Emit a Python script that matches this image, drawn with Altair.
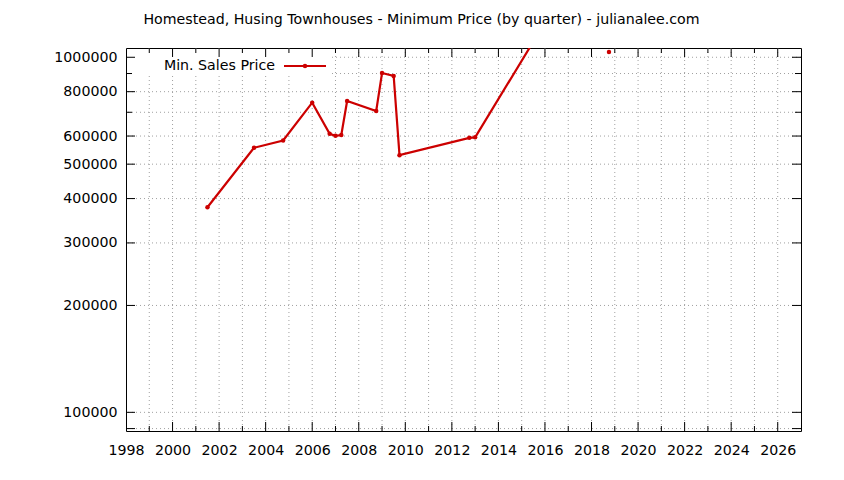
import altair as alt
import pandas as pd

title_text = "Homestead, Husing Townhouses - Minimum Price (by quarter) - julianalee.com"
series_name = "Min. Sales Price"

years = [2001.5, 2003.5, 2004.75, 2006.0, 2006.75, 2007.0, 2007.25, 2007.5,
         2008.75, 2009.0, 2009.5, 2009.75, 2012.75, 2013.0, 2015.5, 2018.75]
prices = [378000, 556000, 583000, 745000, 609000, 601000, 604000, 753000,
          706000, 903000, 886000, 530000, 593000, 595000, 1107000, 1035000]
segments = [1, 1, 1, 1, 1, 1, 1, 1, 1, 1, 1, 1, 1, 1, 1, 2]

x_domain = [1998, 2027]
y_domain = [88600, 1062000]
x_label_values = list(range(1998, 2027, 2))
x_grid_values = list(range(1999, 2027))
x_major_ticks = list(range(2000, 2027, 2))
x_minor_ticks = list(range(1999, 2027, 2))
y_label_values = [100000, 200000, 300000, 400000, 500000, 600000, 800000, 1000000]
y_grid_values = [90000, 100000, 200000, 300000, 400000, 500000, 600000, 700000,
                 800000, 900000, 1000000]
y_major_ticks = [90000, 100000, 200000, 300000, 400000, 500000, 600000, 800000, 1000000]
y_minor_ticks = [700000, 900000]

W, H = 675, 383
RED = "#cc0000"
GRID = "#a0a0a0"
FONT = "DejaVu Sans"
FS = 14.2

df = pd.DataFrame({"year": years, "price": prices, "seg": segments})
xs = alt.Scale(domain=x_domain, nice=False, zero=False)
ys = alt.Scale(type="log", domain=y_domain, nice=False)

AX = alt.Axis(values=x_label_values, format="d", title=None, grid=False, ticks=False,
              domain=False, labelPadding=12, labelFont=FONT, labelFontSize=FS,
              labelColor="black", labelOverlap=False, labelFlush=False)
AY = alt.Axis(values=y_label_values, format="d", title=None, grid=False, ticks=False,
              domain=False, labelPadding=9, labelFont=FONT, labelFontSize=FS,
              labelColor="black", labelOverlap=False, labelFlush=False)


def X(field="year:Q"):
    return alt.X(field, scale=xs, axis=AX)


def Y(field="price:Q"):
    return alt.Y(field, scale=ys, axis=AY)


def xdf(vals):
    return pd.DataFrame({"year": vals})


def ydf(vals):
    return pd.DataFrame({"price": vals})


# grid
vgrid = alt.Chart(xdf(x_grid_values)).mark_rule(color=GRID, strokeDash=[1, 3], strokeWidth=1).encode(x=X())
hgrid = alt.Chart(ydf(y_grid_values)).mark_rule(color=GRID, strokeDash=[1, 3], strokeWidth=1).encode(y=Y())

# legend background box
legend_df = pd.DataFrame({"label": [series_name]})
legend_bg = alt.Chart(legend_df).mark_rect(color="white").encode(
    x=alt.value(1), x2=alt.value(206), y=alt.value(1), y2=alt.value(28))

line = alt.Chart(df).mark_line(color=RED, strokeWidth=2.2, clip=True).encode(
    x=X(), y=Y(), detail="seg:N")
pts = alt.Chart(df).mark_point(color=RED, filled=True, shape="circle", size=20, opacity=1, clip=True).encode(
    x=X(), y=Y())

# inward tick marks
tick_layers = []
for vals, ln in ((x_major_ticks, 9), (x_minor_ticks, 5)):
    tick_layers.append(alt.Chart(xdf(vals)).mark_rule(color="black").encode(
        x=X(), y=alt.value(H), y2=alt.value(H - ln)))
    tick_layers.append(alt.Chart(xdf(vals)).mark_rule(color="black").encode(
        x=X(), y=alt.value(0), y2=alt.value(ln)))
for vals, ln in ((y_major_ticks, 9), (y_minor_ticks, 6)):
    tick_layers.append(alt.Chart(ydf(vals)).mark_rule(color="black").encode(
        y=Y(), x=alt.value(0), x2=alt.value(ln)))
    tick_layers.append(alt.Chart(ydf(vals)).mark_rule(color="black").encode(
        y=Y(), x=alt.value(W), x2=alt.value(W - ln)))

# custom legend (gnuplot style: text then sample)
legend_text = alt.Chart(legend_df).mark_text(align="right", baseline="middle", font=FONT,
                                             fontSize=FS, color="black").encode(
    text="label:N", x=alt.value(149), y=alt.value(18))
legend_line = alt.Chart(legend_df).mark_rule(color=RED, strokeWidth=2.2).encode(
    x=alt.value(158), x2=alt.value(200), y=alt.value(18))
legend_pt = alt.Chart(legend_df).mark_point(color=RED, filled=True, shape="circle", size=20, opacity=1).encode(
    x=alt.value(179), y=alt.value(18))

chart = alt.layer(
    vgrid, hgrid, legend_bg, line, pts, *tick_layers,
    legend_text, legend_line, legend_pt
).properties(
    width=W, height=H,
    title=alt.TitleParams(title_text, font=FONT, fontSize=FS, fontWeight="normal",
                          color="black", anchor="middle", dx=-42, offset=20),
    autosize=alt.AutoSizeParams(type="none"),
    padding={"left": 118, "top": 40, "right": 35, "bottom": 41},
).configure_view(stroke="black", strokeWidth=1)

chart.save("out.html", embed_options={"renderer": "svg", "actions": False})
